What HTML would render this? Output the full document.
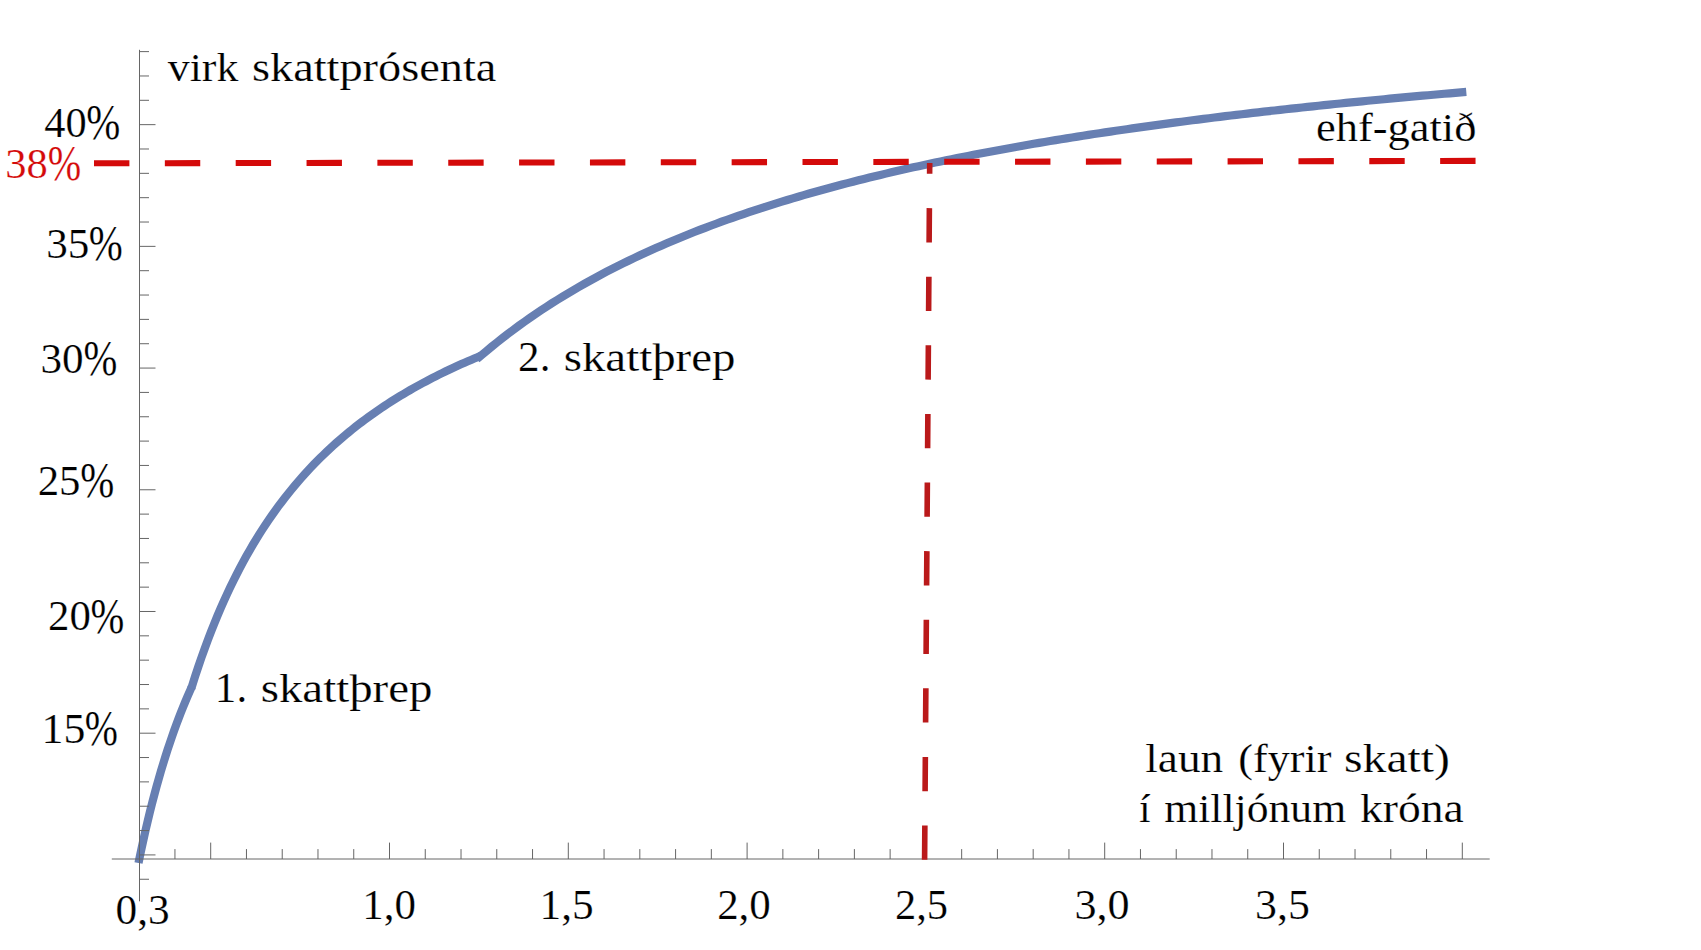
<!DOCTYPE html>
<html lang="is">
<head>
<meta charset="utf-8">
<title>virk skattprósenta</title>
<style>
html,body{margin:0;padding:0;background:#fff;}
body{width:1701px;height:950px;overflow:hidden;}
svg{display:block;}
text{font-family:"Liberation Serif","DejaVu Serif",serif;font-size:41.0px;stroke:#fff;stroke-width:0.2px;}
</style>
</head>
<body>
<svg width="1701" height="950" viewBox="0 0 1701 950">
<rect width="1701" height="950" fill="#ffffff"/>
<g fill="none" stroke="#677fb2" stroke-width="8.2" stroke-linejoin="round" stroke-linecap="butt">
<path d="M138.52,862.97 L138.84,861.40 L141.05,850.74 L143.26,840.51 L145.47,830.67 L147.67,821.20 L149.88,812.09 L152.09,803.31 L154.30,794.85 L156.51,786.69 L158.72,778.81 L160.92,771.20 L163.13,763.84 L165.34,756.73 L167.55,749.85 L169.76,743.18 L171.97,736.73 L174.18,730.48 L176.38,724.42 L178.59,718.54 L180.80,712.83 L183.01,707.29 L185.22,701.91 L187.43,696.68 L189.64,691.60 L191.84,686.66"/>
<path d="M191.24,688.56 L191.84,686.66 L195.05,676.56 L198.26,666.86 L201.47,657.52 L204.68,648.53 L207.89,639.87 L211.10,631.51 L214.31,623.45 L217.51,615.67 L220.72,608.15 L223.93,600.88 L227.14,593.85 L230.35,587.04 L233.56,580.46 L236.77,574.07 L239.98,567.89 L243.18,561.89 L246.39,556.07 L249.60,550.43 L252.81,544.94 L256.02,539.62 L259.23,534.44 L262.44,529.41 L265.65,524.51 L268.85,519.75 L272.06,515.11 L275.27,510.60 L278.48,506.20 L281.69,501.92 L284.90,497.75 L288.11,493.68 L291.32,489.71 L294.52,485.83 L297.73,482.05 L300.94,478.36 L304.15,474.76 L307.36,471.24 L310.57,467.80 L313.78,464.44 L316.99,461.16 L320.19,457.95 L323.40,454.81 L326.61,451.73 L329.82,448.73 L333.03,445.79 L336.24,442.91 L339.45,440.08 L342.66,437.32 L345.87,434.62 L349.07,431.97 L352.28,429.37 L355.49,426.82 L358.70,424.32 L361.91,421.88 L365.12,419.47 L368.33,417.12 L371.54,414.81 L374.74,412.54 L377.95,410.31 L381.16,408.13 L384.37,405.99 L387.58,403.88 L390.79,401.81 L394.00,399.78 L397.21,397.78 L400.41,395.82 L403.62,393.89 L406.83,392.00 L410.04,390.13 L413.25,388.30 L416.46,386.50 L419.67,384.73 L422.88,382.99 L426.08,381.27 L429.29,379.59 L432.50,377.93 L435.71,376.29 L438.92,374.69 L442.13,373.11 L445.34,371.55 L448.55,370.01 L451.76,368.50 L454.96,367.02 L458.17,365.55 L461.38,364.11 L464.59,362.69 L467.80,361.29 L471.01,359.91 L474.22,358.55 L477.43,357.21 L480.63,355.88"/>
<path d="M476.82,359.11 L480.63,355.88 L486.11,351.26 L491.59,346.74 L497.06,342.33 L502.54,338.02 L508.01,333.81 L513.49,329.69 L518.97,325.67 L524.44,321.74 L529.92,317.89 L535.39,314.13 L540.87,310.44 L546.35,306.84 L551.82,303.31 L557.30,299.86 L562.77,296.47 L568.25,293.16 L573.72,289.91 L579.20,286.73 L584.68,283.61 L590.15,280.55 L595.63,277.56 L601.10,274.61 L606.58,271.73 L612.06,268.90 L617.53,266.12 L623.01,263.39 L628.48,260.72 L633.96,258.09 L639.44,255.51 L644.91,252.98 L650.39,250.49 L655.86,248.04 L661.34,245.64 L666.82,243.28 L672.29,240.95 L677.77,238.67 L683.24,236.43 L688.72,234.22 L694.20,232.05 L699.67,229.92 L705.15,227.82 L710.62,225.75 L716.10,223.72 L721.57,221.72 L727.05,219.75 L732.53,217.81 L738.00,215.90 L743.48,214.03 L748.95,212.18 L754.43,210.35 L759.91,208.56 L765.38,206.79 L770.86,205.05 L776.33,203.33 L781.81,201.64 L787.29,199.98 L792.76,198.33 L798.24,196.71 L803.71,195.12 L809.19,193.54 L814.67,191.99 L820.14,190.46 L825.62,188.95 L831.09,187.46 L836.57,186.00 L842.05,184.55 L847.52,183.12 L853.00,181.71 L858.47,180.32 L863.95,178.95 L869.42,177.59 L874.90,176.25 L880.38,174.93 L885.85,173.63 L891.33,172.34 L896.80,171.07 L902.28,169.82 L907.76,168.58 L913.23,167.36 L918.71,166.15 L924.18,164.96 L929.66,163.78 L935.14,162.61 L940.61,161.46 L946.09,160.33 L951.56,159.20 L957.04,158.09 L962.52,157.00 L967.99,155.91 L973.47,154.84 L978.94,153.78 L984.42,152.74 L989.89,151.70 L995.37,150.68 L1000.85,149.67 L1006.32,148.67 L1011.80,147.68 L1017.27,146.70 L1022.75,145.73 L1028.23,144.78 L1033.70,143.83 L1039.18,142.89 L1044.65,141.97 L1050.13,141.05 L1055.61,140.15 L1061.08,139.25 L1066.56,138.36 L1072.03,137.49 L1077.51,136.62 L1082.99,135.76 L1088.46,134.91 L1093.94,134.07 L1099.41,133.23 L1104.89,132.41 L1110.37,131.59 L1115.84,130.78 L1121.32,129.98 L1126.79,129.19 L1132.27,128.41 L1137.74,127.63 L1143.22,126.86 L1148.70,126.10 L1154.17,125.35 L1159.65,124.60 L1165.12,123.87 L1170.60,123.13 L1176.08,122.41 L1181.55,121.69 L1187.03,120.98 L1192.50,120.28 L1197.98,119.58 L1203.46,118.89 L1208.93,118.20 L1214.41,117.52 L1219.88,116.85 L1225.36,116.18 L1230.84,115.52 L1236.31,114.87 L1241.79,114.22 L1247.26,113.58 L1252.74,112.94 L1258.22,112.31 L1263.69,111.69 L1269.17,111.07 L1274.64,110.45 L1280.12,109.84 L1285.59,109.24 L1291.07,108.64 L1296.55,108.05 L1302.02,107.46 L1307.50,106.88 L1312.97,106.30 L1318.45,105.73 L1323.93,105.16 L1329.40,104.60 L1334.88,104.04 L1340.35,103.48 L1345.83,102.93 L1351.31,102.39 L1356.78,101.85 L1362.26,101.31 L1367.73,100.78 L1373.21,100.25 L1378.69,99.73 L1384.16,99.21 L1389.64,98.70 L1395.11,98.19 L1400.59,97.68 L1406.06,97.18 L1411.54,96.68 L1417.02,96.19 L1422.49,95.70 L1427.97,95.21 L1433.44,94.73 L1438.92,94.25 L1444.40,93.77 L1449.87,93.30 L1455.35,92.83 L1460.82,92.37 L1466.30,91.91"/>
</g>
<line x1="111.8" y1="859" x2="1489.7" y2="859" stroke="#666666" stroke-width="1"/>
<line x1="139.5" y1="49.8" x2="139.5" y2="901.3" stroke="#666666" stroke-width="1"/>
<path d="M174.94,859 v-9.9 M210.70,859 v-16.4 M246.46,859 v-9.9 M282.22,859 v-9.9 M317.98,859 v-9.9 M353.74,859 v-9.9 M389.50,859 v-16.4 M425.26,859 v-9.9 M461.02,859 v-9.9 M496.78,859 v-9.9 M532.54,859 v-9.9 M568.30,859 v-16.4 M604.06,859 v-9.9 M639.82,859 v-9.9 M675.58,859 v-9.9 M711.34,859 v-9.9 M747.10,859 v-16.4 M782.86,859 v-9.9 M818.62,859 v-9.9 M854.38,859 v-9.9 M890.14,859 v-9.9 M925.90,859 v-16.4 M961.66,859 v-9.9 M997.42,859 v-9.9 M1033.18,859 v-9.9 M1068.94,859 v-9.9 M1104.70,859 v-16.4 M1140.46,859 v-9.9 M1176.22,859 v-9.9 M1211.98,859 v-9.9 M1247.74,859 v-9.9 M1283.50,859 v-16.4 M1319.26,859 v-9.9 M1355.02,859 v-9.9 M1390.78,859 v-9.9 M1426.54,859 v-9.9 M1462.30,859 v-16.4 M139.5,879.25 h9.5 M139.5,854.91 h16 M139.5,830.57 h9.5 M139.5,806.23 h9.5 M139.5,781.88 h9.5 M139.5,757.54 h9.5 M139.5,733.20 h16 M139.5,708.86 h9.5 M139.5,684.52 h9.5 M139.5,660.17 h9.5 M139.5,635.83 h9.5 M139.5,611.49 h16 M139.5,587.15 h9.5 M139.5,562.81 h9.5 M139.5,538.46 h9.5 M139.5,514.12 h9.5 M139.5,489.78 h16 M139.5,465.44 h9.5 M139.5,441.10 h9.5 M139.5,416.75 h9.5 M139.5,392.41 h9.5 M139.5,368.07 h16 M139.5,343.73 h9.5 M139.5,319.39 h9.5 M139.5,295.04 h9.5 M139.5,270.70 h9.5 M139.5,246.36 h16 M139.5,222.02 h9.5 M139.5,197.68 h9.5 M139.5,173.33 h9.5 M139.5,148.99 h9.5 M139.5,124.65 h16 M139.5,100.31 h9.5 M139.5,75.97 h9.5 M139.5,51.62 h9.5" stroke="#666666" stroke-width="1" fill="none"/>
<line x1="94" y1="163.3" x2="1475.6" y2="160.9" stroke="#d40a0a" stroke-width="6.1" stroke-dasharray="35.4 35.45"/>
<line x1="924.6" y1="859.8" x2="929.7" y2="163" stroke="#ba191a" stroke-width="5.6" stroke-dasharray="34.3 34.3"/>
<text y="80.60" fill="#000"><tspan id="t0" x="167.74" textLength="70.63" lengthAdjust="spacingAndGlyphs">virk</tspan> <tspan id="t1" x="251.96" textLength="244.47" lengthAdjust="spacingAndGlyphs">skattprósenta</tspan></text>
<text y="136.80" fill="#000"><tspan id="t2" font-size="42.3" x="44.39" textLength="42.36" lengthAdjust="spacingAndGlyphs">40</tspan><tspan id="t3" font-size="50.4" x="86.35" dy="2.4" textLength="34.01" lengthAdjust="spacingAndGlyphs">%</tspan></text>
<text y="177.80" fill="#d40a0a"><tspan id="t4" font-size="42.3" x="5.33" textLength="42.49" lengthAdjust="spacingAndGlyphs">38</tspan><tspan id="t5" font-size="50.4" x="47.67" dy="2.4" textLength="33.47" lengthAdjust="spacingAndGlyphs">%</tspan></text>
<text y="257.80" fill="#000"><tspan id="t6" font-size="42.3" x="46.28" textLength="43.11" lengthAdjust="spacingAndGlyphs">35</tspan><tspan id="t7" font-size="50.4" x="88.74" dy="2.4" textLength="34.01" lengthAdjust="spacingAndGlyphs">%</tspan></text>
<text y="372.60" fill="#000"><tspan id="t8" font-size="42.3" x="40.46" textLength="43.12" lengthAdjust="spacingAndGlyphs">30</tspan><tspan id="t9" font-size="50.4" x="83.42" dy="2.4" textLength="33.83" lengthAdjust="spacingAndGlyphs">%</tspan></text>
<text y="494.70" fill="#000"><tspan id="t10" font-size="42.3" x="37.67" textLength="42.78" lengthAdjust="spacingAndGlyphs">25</tspan><tspan id="t11" font-size="50.4" x="80.16" dy="2.4" textLength="34.03" lengthAdjust="spacingAndGlyphs">%</tspan></text>
<text y="630.10" fill="#000"><tspan id="t12" font-size="42.3" x="48.06" textLength="42.78" lengthAdjust="spacingAndGlyphs">20</tspan><tspan id="t13" font-size="50.4" x="90.42" dy="2.4" textLength="33.78" lengthAdjust="spacingAndGlyphs">%</tspan></text>
<text y="742.70" fill="#000"><tspan id="t14" font-size="42.3" x="41.50" textLength="43.83" lengthAdjust="spacingAndGlyphs">15</tspan><tspan id="t15" font-size="50.4" x="84.75" dy="2.4" textLength="33.17" lengthAdjust="spacingAndGlyphs">%</tspan></text>
<text y="923.70" fill="#000"><tspan id="t16" font-size="42.3" x="115.55" textLength="54.16" lengthAdjust="spacingAndGlyphs">0,3</tspan></text>
<text y="919.00" fill="#000"><tspan id="t17" font-size="42.3" x="362.24" textLength="53.64" lengthAdjust="spacingAndGlyphs">1,0</tspan></text>
<text y="918.50" fill="#000"><tspan id="t18" font-size="42.3" x="539.48" textLength="54.18" lengthAdjust="spacingAndGlyphs">1,5</tspan></text>
<text y="918.50" fill="#000"><tspan id="t19" font-size="42.3" x="717.15" textLength="53.64" lengthAdjust="spacingAndGlyphs">2,0</tspan></text>
<text y="918.50" fill="#000"><tspan id="t20" font-size="42.3" x="894.92" textLength="53.09" lengthAdjust="spacingAndGlyphs">2,5</tspan></text>
<text y="918.50" fill="#000"><tspan id="t21" font-size="42.3" x="1074.42" textLength="55.14" lengthAdjust="spacingAndGlyphs">3,0</tspan></text>
<text y="918.50" fill="#000"><tspan id="t22" font-size="42.3" x="1255.14" textLength="54.77" lengthAdjust="spacingAndGlyphs">3,5</tspan></text>
<text y="140.50" fill="#000"><tspan id="t23" x="1315.95" textLength="160.42" lengthAdjust="spacingAndGlyphs">ehf-gatið</tspan></text>
<text y="370.90" fill="#000"><tspan id="t24" font-size="42.3" x="518.13" textLength="32.31" lengthAdjust="spacingAndGlyphs">2.</tspan> <tspan id="t25" x="563.71" textLength="171.76" lengthAdjust="spacingAndGlyphs">skattþrep</tspan></text>
<text y="702.30" fill="#000"><tspan id="t26" font-size="42.3" x="214.88" textLength="32.27" lengthAdjust="spacingAndGlyphs">1.</tspan> <tspan id="t27" x="260.71" textLength="171.76" lengthAdjust="spacingAndGlyphs">skattþrep</tspan></text>
<text y="772.00" fill="#000"><tspan id="t28" x="1145.20" textLength="78.08" lengthAdjust="spacingAndGlyphs">laun</tspan> <tspan id="t29" x="1238.34" textLength="93.10" lengthAdjust="spacingAndGlyphs">(fyrir</tspan> <tspan id="t30" x="1344.07" textLength="105.79" lengthAdjust="spacingAndGlyphs">skatt)</tspan></text>
<text y="821.50" fill="#000"><tspan id="t31" x="1139.01" textLength="11.61" lengthAdjust="spacingAndGlyphs">í</tspan> <tspan id="t32" x="1164.21" textLength="181.98" lengthAdjust="spacingAndGlyphs">milljónum</tspan> <tspan id="t33" x="1360.05" textLength="103.72" lengthAdjust="spacingAndGlyphs">króna</tspan></text>
</svg>
</body>
</html>
